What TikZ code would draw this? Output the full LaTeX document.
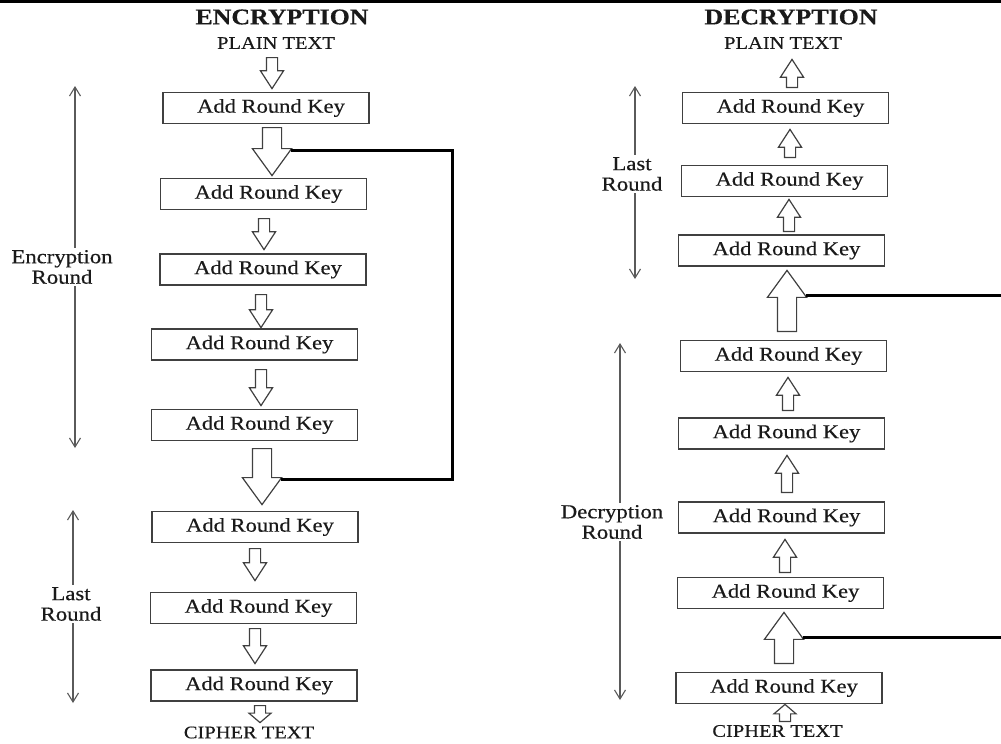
\documentclass[tikz,border=0pt]{standalone}
\usepackage{fontspec}
\setmainfont{Liberation Serif}[FakeStretch=1.15, FakeBold=0.4]
\usepackage{xcolor}
\usetikzlibrary{shapes.arrows, arrows.meta, calc}
\definecolor{aesink}{HTML}{1A1A1A}
\definecolor{aesline}{HTML}{404040}
\definecolor{aesgray}{HTML}{5A5A5A}

\begin{document}
\begin{tikzpicture}[
    x=1pt, y=-1pt,
    font=\fontsize{19.6}{20}\selectfont,
    box/.style={draw=aesline, line width=1.3pt, minimum width=206pt, minimum height=31pt,
      inner sep=0pt, text=aesink, execute at begin node={\hspace*{10pt}}},
    title/.style={font=\fontsize{22.5}{24}\selectfont\bfseries, text=aesink, inner sep=0pt},
    endtext/.style={font=\fontsize{17.8}{18}\selectfont, text=aesink, inner sep=0pt},
    side/.style={font=\fontsize{19.8}{20.5}\selectfont, align=center, text=aesink, inner sep=2pt},
    blk/.style={single arrow, draw=aesline, line width=1.2pt, fill=white,
      single arrow head indent=0pt, anchor=tail},
    smallarr/.style={blk, inner sep=5pt, single arrow head extend=6pt, single arrow tip angle=66},
    bigarr/.style={blk, inner sep=9pt, single arrow head extend=10pt, single arrow tip angle=72},
    tinyarr/.style={blk, inner sep=5pt, single arrow head extend=5.5pt, single arrow tip angle=99},
    dn/.style={shape border rotate=270},
    up/.style={shape border rotate=90},
    fb/.style={draw=black, line width=3pt},
    dim/.style={draw=aesgray, line width=1.1pt, -{Straight Barb[length=9pt, width=11pt]}}
  ]
    \useasboundingbox (0,0) rectangle (1001,744);
    \fill[white] (0,0) rectangle (1001,744);
    \fill[black] (0,0) rectangle (1001,2.5);

    % encryption side
    \node[title] (enc) at (282,17) {ENCRYPTION};
    \node[endtext] (encin) at (276,43) {PLAIN TEXT};
    \node[box] (b1) at (266,108) {Add Round Key};
    \node[box] (b2) at (263.5,194) {Add Round Key};
    \node[box] (b3) at (263,269.5) {Add Round Key};
    \node[box] (b4) at (254.5,344.5) {Add Round Key};
    \node[box] (b5) at (254.5,425) {Add Round Key};
    \node[box] (b6) at (255,527) {Add Round Key};
    \node[box] (b7) at (253.5,608) {Add Round Key};
    \node[box] (b8) at (254,685.5) {Add Round Key};
    \node[endtext] (encout) at (249,732.5) {CIPHER TEXT};

    \node[smallarr, dn, minimum height=31pt] (a1) at (272,57) {};
    \node[bigarr, dn, minimum height=48pt] (a2) at (272,127) {};
    \node[smallarr, dn, minimum height=31pt] (a3) at (264,218) {};
    \node[smallarr, dn, minimum height=33pt] (a4) at (261,294) {};
    \node[smallarr, dn, minimum height=36pt] (a5) at (261,369) {};
    \node[bigarr, dn, minimum height=56pt] (a6) at (262,448) {};
    \node[smallarr, dn, minimum height=32pt] (a7) at (255,548) {};
    \node[smallarr, dn, minimum height=35pt] (a8) at (255,628) {};
    \node[tinyarr, dn, minimum height=17pt] (a9) at (260,705) {};

    \coordinate (fbout) at ($(a2.tip)+(19,-26)$);
    \coordinate (fbin) at ($(a6.tip)+(19,-26)$);
    \coordinate (loopx) at (452,0);
    \draw[fb] (fbout) -- (fbout -| loopx) |- (fbin);

    \node[side] (encr) at (62,267) {Encryption\\Round};
    \coordinate (encr-up) at (75,86);
    \coordinate (encr-dn) at (75,448);
    \draw[dim] (encr.north -| encr-up) -- (encr-up);
    \draw[dim] (encr.south -| encr-up) -- (encr-dn);

    \node[side] (encl) at (71,604) {Last\\Round};
    \coordinate (encl-up) at (73,510);
    \coordinate (encl-dn) at (73,703);
    \draw[dim] (encl.north -| encl-up) -- (encl-up);
    \draw[dim] (encl.south -| encl-up) -- (encl-dn);

    % decryption side
    \node[title] (dec) at (791,17) {DECRYPTION};
    \node[endtext] (decout) at (783,43) {PLAIN TEXT};
    \node[box] (d1) at (785.5,108) {Add Round Key};
    \node[box] (d2) at (784.5,181) {Add Round Key};
    \node[box] (d3) at (781.5,250.5) {Add Round Key};
    \node[box] (d4) at (783.5,356) {Add Round Key};
    \node[box] (d5) at (781.5,433.5) {Add Round Key};
    \node[box] (d6) at (781.5,517.5) {Add Round Key};
    \node[box] (d7) at (780.5,593) {Add Round Key};
    \node[box] (d8) at (779,688) {Add Round Key};
    \node[endtext] (decin) at (777.5,731) {CIPHER TEXT};

    \node[smallarr, up, minimum height=28pt] (r1) at (792,88) {};
    \node[smallarr, up, minimum height=28pt] (r2) at (790,158) {};
    \node[smallarr, up, minimum height=32pt] (r3) at (789,232) {};
    \node[bigarr, up, minimum height=61pt] (r4) at (787,332) {};
    \node[smallarr, up, minimum height=33pt] (r5) at (788,411) {};
    \node[smallarr, up, minimum height=37pt] (r6) at (787,493) {};
    \node[smallarr, up, minimum height=33pt] (r7) at (785,573) {};
    \node[bigarr, up, minimum height=51pt] (r8) at (784,664) {};
    \node[tinyarr, up, minimum height=17pt] (r9) at (785,722) {};

    \coordinate (redge) at (1001,0);
    \coordinate (fbtop) at ($(r4.tip)+(19,26)$);
    \coordinate (fbbot) at ($(r8.tip)+(19,26)$);
    \draw[fb] (fbtop) -- (fbtop -| redge);
    \draw[fb] (fbbot) -- (fbbot -| redge);

    \node[side] (decl) at (632,174) {Last\\Round};
    \coordinate (decl-up) at (635,86);
    \coordinate (decl-dn) at (635,279);
    \draw[dim] (decl.north -| decl-up) -- (decl-up);
    \draw[dim] (decl.south -| decl-up) -- (decl-dn);

    \node[side] (decr) at (612,522) {Decryption\\Round};
    \coordinate (decr-up) at (620,343);
    \coordinate (decr-dn) at (620,700);
    \draw[dim] (decr.north -| decr-up) -- (decr-up);
    \draw[dim] (decr.south -| decr-up) -- (decr-dn);
  \end{tikzpicture}
\end{document}
